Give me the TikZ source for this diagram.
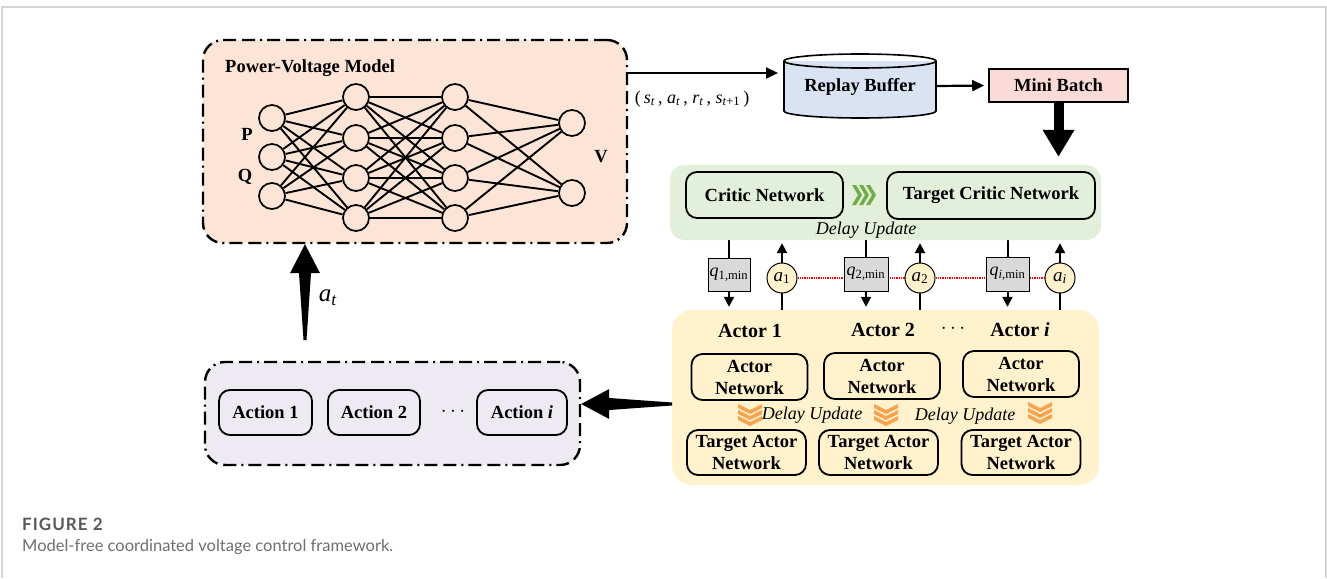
\documentclass[tikz,border=0pt]{standalone}
\usepackage{fontspec}
\setmainfont{Liberation Serif}
\newfontfamily\capfont{Lato}
\usetikzlibrary{arrows.meta,positioning,calc,backgrounds}

\definecolor{pvpeach}{HTML}{FCE4D6}
\definecolor{bufblue}{HTML}{DAE3F3}
\definecolor{minipink}{HTML}{FADBD8}
\definecolor{criticgreen}{HTML}{E2EFDA}
\definecolor{actoryellow}{HTML}{FFF2CC}
\definecolor{actlavender}{HTML}{EDEAF2}
\definecolor{qgray}{HTML}{D9D9D9}
\definecolor{chevgreen}{HTML}{70AD47}
\definecolor{chevorange}{HTML}{F7A451}
\definecolor{framegray}{HTML}{D4D4D4}
\definecolor{capgray}{HTML}{6E6E6E}

\newcommand{\ms}[2]{\textit{#1}\textsubscript{#2}}

\begin{document}
\begin{tikzpicture}[x=1pt,y=-1pt,
  region/.style={rounded corners=20pt, inner sep=0pt},
  dashdot/.style={draw, line width=2.4pt, dash pattern=on 13pt off 6pt on 13pt off 5pt on 2pt off 5pt},
  netbox/.style={draw, line width=1.8pt, rounded corners=11pt, inner sep=0pt, align=center, font=\fontsize{18.5}{22}\selectfont\bfseries},
  neuron/.style={circle, draw, line width=1.7pt, minimum size=26pt, inner sep=0pt},
  qbox/.style={draw, fill=qgray, line width=0.8pt, inner sep=0pt, font=\fontsize{18}{20}\selectfont},
  abox/.style={circle, draw, fill=actoryellow, line width=1pt, minimum size=30pt, inner sep=0pt, font=\fontsize{19}{20}\selectfont},
  thinarr/.style={line width=2.2pt, -{Triangle[length=12pt,width=11pt]}},
  smallarr/.style={line width=2pt, -{Triangle[length=10pt,width=10pt]}},
  lbl/.style={inner sep=0pt, font=\fontsize{18.5}{22}\selectfont\bfseries},
  delay/.style={inner sep=0pt, font=\fontsize{18}{20}\selectfont\itshape},
]
\useasboundingbox (0,0) rectangle (1327,578);
\draw[framegray, line width=1.5pt] (2,578) -- (2,7) -- (1326,7) -- (1326,578);

% power-voltage model
\node[region, fill=pvpeach, dashdot, minimum width=424pt, minimum height=203pt] (pv) at (415,141.5) {};
\node[lbl, anchor=west] (pvtitle) at (225,68) {Power-Voltage Model};
\foreach \y [count=\i] in {118,157,196} \node[neuron] (la\i) at (272,\y) {};
\foreach \y [count=\i] in {97,138,178,218} {
  \node[neuron] (lb\i) at (356,\y) {};
  \node[neuron] (lc\i) at (455,\y) {};
}
\foreach \y [count=\i] in {123,193} \node[neuron] (ld\i) at (572,\y) {};
\foreach \i in {1,2,3} \foreach \j in {1,...,4} \draw[line width=1.9pt] (la\i) -- (lb\j);
\foreach \i in {1,...,4} \foreach \j in {1,...,4} \draw[line width=1.9pt] (lb\i) -- (lc\j);
\foreach \i in {1,...,4} \foreach \j in {1,2} \draw[line width=1.9pt] (lc\i) -- (ld\j);
\node[lbl] (pin) at (247,134) {P};
\node[lbl] (qin) at (245,177) {Q};
\node[lbl] (vout) at (601,157) {V};

% replay buffer and mini batch
\node[lbl, minimum width=152pt, minimum height=64pt] (buffer) at (860,86) {};
\fill[bufblue] (784,61) rectangle (936,111);
\fill[bufblue] (860,111) ellipse[x radius=76, y radius=7];
\draw[line width=1.6pt] (784,61) -- (784,111) arc[start angle=180, end angle=0, x radius=76, y radius=7] -- (936,61);
\draw[line width=1.6pt] (860,61) ellipse[x radius=76, y radius=7];
\node[lbl] at ([yshift=-1pt]buffer.center) {Replay Buffer};
\node[lbl, draw, fill=minipink, line width=1.6pt, minimum width=139pt, minimum height=33pt] (mini) at (1058.5,85.5) {Mini Batch};
\coordinate (bufin) at (778,73);
\draw[thinarr] (pv.east |- bufin) -- (bufin);
\node[inner sep=0pt, font=\fontsize{18}{20}\selectfont] (tuple) at (692,99)
  {(\,\ms{s}{\textit{t}}\,, \ms{a}{\textit{t}}\,, \ms{r}{\textit{t}}\,, \ms{s}{\textit{t}+1}\,)};
\draw[thinarr, shorten >=4pt] (buffer.east) -- (mini.west);

% critic
\node[region, rounded corners=15pt, fill=criticgreen, minimum width=431pt, minimum height=75pt] (critic) at (885.5,202.5) {};
\draw[line width=10pt, -{Triangle[length=27pt,width=30pt]}, shorten >=8pt] (mini.south) -- (mini.south |- critic.north);
\node[netbox, minimum width=157pt, minimum height=46pt] (cnet) at (764.5,195) {Critic Network};
\node[netbox, minimum width=208pt, minimum height=47pt] (tcnet) at (991,195.5) {Target Critic Network};
\coordinate (gchev) at (862,195);
\foreach \k in {0,1,2}
  \fill[chevgreen] ($(gchev)+(\k*7-10,-10)$) -- ++(4,0) -- ++(6,10) -- ++(-6,10) -- ++(-4,0) -- ++(6,-10) -- cycle;
\node[delay] (cdelay) at (866,230) {Delay Update};

% actors
\node[region, fill=actoryellow, minimum width=427pt, minimum height=175pt] (actors) at (885.5,397.5) {};
\node[lbl, font=\fontsize{20}{24}\selectfont\bfseries] (act1) at (750,331) {Actor 1};
\node[lbl, font=\fontsize{20}{24}\selectfont\bfseries] (act2) at (883,330) {Actor 2};
\node[inner sep=0pt, font=\fontsize{21}{24}\selectfont] (actdots) at (953,329) {$\cdots$};
\node[lbl, font=\fontsize{20}{24}\selectfont\bfseries] (acti) at (1020,330) {Actor \textit{i}};
\foreach \x/\y/\n in {749.5/377/1, 882/376/2, 1021/374/3}
  \node[netbox, minimum width=116pt, minimum height=46pt] (anet\n) at (\x,\y) {Actor\\Network};
\foreach \x/\n in {746.5/1, 878.5/2, 1021/3}
  \node[netbox, minimum width=119pt, minimum height=45pt] (tanet\n) at (\x,452.5) {Target Actor\\Network};
\foreach \x/\y in {750/414, 886/414, 1040/412} {
  \foreach \k in {0,1,2}
    \fill[chevorange] ($(\x,\y)+(-12,\k*6-10)$) -- ++(12,6) -- ++(12,-6) -- ++(0,4) -- ++(-12,6) -- ++(-12,-6) -- cycle;
}
\node[delay] (adelay1) at (812,415) {Delay Update};
\node[delay] (adelay2) at (965,416) {Delay Update};

% q values and actions between critic and actors
\node[qbox, minimum width=42pt, minimum height=33pt] (q1) at (729,274.5) {\ms{q}{1,min}};
\node[qbox, minimum width=44pt, minimum height=34pt] (q2) at (866,274) {\ms{q}{2,min}};
\node[qbox, minimum width=43pt, minimum height=34pt] (qi) at (1007.5,274) {\ms{q}{\textit{i},min}};
\node[abox] (a1) at (782,278) {\ms{a}{1}};
\node[abox] (a2) at (920,278) {\ms{a}{2}};
\node[abox] (ai) at (1060,278) {\ms{a}{\textit{i}}};
\begin{pgfonlayer}{background}
\draw[red, densely dotted, line width=1.3pt] (a1) -- (ai);
\foreach \n in {q1,q2,qi} \draw[smallarr, shorten >=3pt] (\n |- critic.south) -- (\n |- actors.north);
\foreach \n in {a1,a2,ai} \draw[smallarr, shorten >=3pt] (\n |- actors.north) -- (\n |- critic.south);
\end{pgfonlayer}

% actions
\node[region, fill=actlavender, dashdot, minimum width=375pt, minimum height=103pt] (actions) at (392.5,413.5) {};
\node[netbox, minimum width=93pt, minimum height=45pt] (act1box) at (265.5,412.5) {Action 1};
\node[netbox, minimum width=92pt, minimum height=45pt] (act2box) at (374,412.5) {Action 2};
\node[inner sep=0pt, font=\fontsize{21}{24}\selectfont] (actiondots) at (453,412) {$\cdots$};
\node[netbox, minimum width=90pt, minimum height=45pt] (actibox) at (522,412.5) {Action \textit{i}};
\coordinate (ltail) at (672,404);
\fill (actions.east |- ltail) -- ++(28,-15) -- ++(0,9) -- ($(ltail)+(0,-1.5)$) -- ++(0,3) -- ($(actions.east |- ltail)+(28,6)$) -- ++(0,9) -- cycle;
\coordinate (uptail) at (305,340);
\fill (uptail |- pv.south) -- ++(15,29) -- ++(-9,0) -- ($(uptail)+(1.5,0)$) -- ++(-3,0) -- ($(uptail |- pv.south)+(-6,29)$) -- ++(-9,0) -- cycle;
\node[inner sep=0pt, font=\fontsize{25}{26}\selectfont] (atlabel) at (328,298) {\ms{a}{\textit{t}}};

% caption
\node[anchor=west, inner sep=0pt, text=capgray!80!black, font=\capfont\fontsize{17}{20}\selectfont\bfseries\addfontfeatures{LetterSpace=6}] (figno) at (22,524) {FIGURE 2};
\node[anchor=west, inner sep=0pt, text=capgray, font=\capfont\fontsize{16.5}{20}\selectfont] (figcap) at (22,547) {Model-free coordinated voltage control framework.};
\end{tikzpicture}
\end{document}
